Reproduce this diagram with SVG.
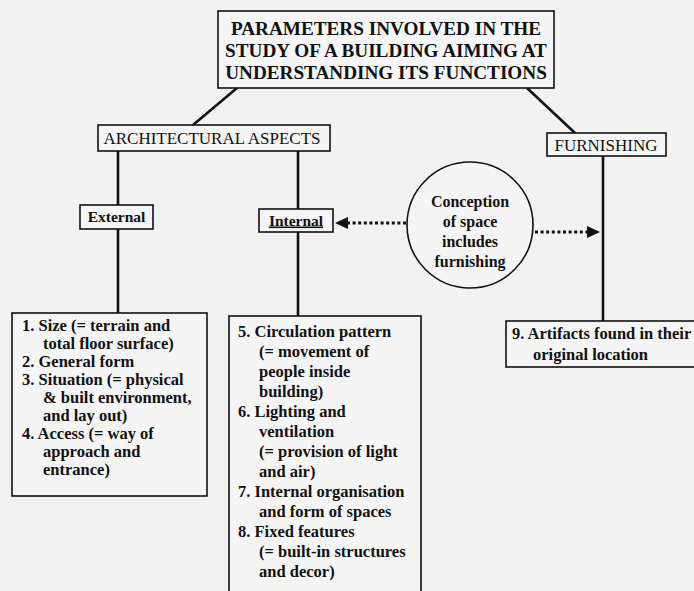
<svg xmlns="http://www.w3.org/2000/svg" width="694" height="591" viewBox="0 0 694 591">
<style>
.bg{fill:#f2f2f2}
.box{fill:#f5f5f5;stroke:#111;stroke-width:1.6}
.ln{stroke:#111;stroke-width:2.6;fill:none}
.dot{stroke:#111;stroke-width:3.2;stroke-dasharray:3 2.6;fill:none}
text{font-family:'Liberation Serif','DejaVu Serif','Times New Roman',serif;fill:#111}
.title{font-weight:bold;font-size:19.2px;text-anchor:middle}
.hd{font-size:17px;text-anchor:middle}
.lab{font-weight:bold;font-size:15.5px;text-anchor:middle}
.ci{font-weight:bold;font-size:16px;text-anchor:middle}
.li{font-weight:bold;font-size:16.5px}
</style>
<rect class="bg" x="0" y="0" width="694" height="591"/>

<g id="connectors">
<line class="ln" x1="237" y1="88" x2="193" y2="125"/>
<line class="ln" x1="527" y1="88" x2="575" y2="133"/>
<line class="ln" x1="118" y1="151" x2="118" y2="205"/>
<line class="ln" x1="118" y1="229" x2="118" y2="313"/>
<line class="ln" x1="298" y1="151" x2="298" y2="209"/>
<line class="ln" x1="298" y1="232" x2="298" y2="316"/>
<line class="ln" x1="603" y1="156" x2="603" y2="321"/>
<line class="dot" x1="406" y1="223" x2="346" y2="223"/>
<path d="M335,223 L348,217 L348,229 z" fill="#111"/>
<line class="dot" x1="535" y1="232" x2="588" y2="232"/>
<path d="M600,232 L587,226 L587,238 z" fill="#111"/>
</g>

<g id="title">
<rect class="box" x="218" y="11" width="336" height="77"/>
<text class="title" x="386" y="35">PARAMETERS INVOLVED IN THE</text>
<text class="title" x="386" y="57">STUDY OF A BUILDING AIMING AT</text>
<text class="title" x="386" y="79">UNDERSTANDING ITS FUNCTIONS</text>
</g>

<g id="architectural">
<rect class="box" x="98" y="125" width="232" height="26"/>
<text class="hd" x="212" y="144">ARCHITECTURAL ASPECTS</text>
</g>

<g id="furnishing">
<rect class="box" x="547" y="133" width="119" height="23"/>
<text class="hd" x="606" y="150.5">FURNISHING</text>
</g>

<g id="external">
<rect class="box" x="80" y="205" width="73" height="24"/>
<text class="lab" x="116.5" y="222">External</text>
</g>

<g id="internal">
<rect class="box" x="259" y="209" width="74" height="23"/>
<text class="lab" x="296" y="225.5" text-decoration="underline">Internal</text>
</g>

<g id="conception">
<circle cx="470" cy="225" r="63" fill="#f5f5f5" stroke="#111" stroke-width="1.6"/>
<text class="ci" x="470" y="207">Conception</text>
<text class="ci" x="470" y="227">of space</text>
<text class="ci" x="470" y="247">includes</text>
<text class="ci" x="470" y="267">furnishing</text>
</g>

<g id="external-list">
<rect class="box" x="12" y="313" width="195" height="183"/>
<text class="li" x="22" y="331">1. Size (= terrain and</text>
<text class="li" x="43" y="349">total floor surface)</text>
<text class="li" x="22" y="367">2. General form</text>
<text class="li" x="22" y="385">3. Situation (= physical</text>
<text class="li" x="43" y="403">&amp; built environment,</text>
<text class="li" x="43" y="421">and lay out)</text>
<text class="li" x="22" y="439">4. Access (= way of</text>
<text class="li" x="43" y="457">approach and</text>
<text class="li" x="43" y="475">entrance)</text>
</g>

<g id="internal-list">
<rect class="box" x="229" y="316" width="192" height="283"/>
<text class="li" x="238" y="337">5. Circulation pattern</text>
<text class="li" x="259" y="357">(= movement of</text>
<text class="li" x="259" y="377">people inside</text>
<text class="li" x="259" y="397">building)</text>
<text class="li" x="238" y="417">6. Lighting and</text>
<text class="li" x="259" y="437">ventilation</text>
<text class="li" x="259" y="457">(= provision of light</text>
<text class="li" x="259" y="477">and air)</text>
<text class="li" x="238" y="497">7. Internal organisation</text>
<text class="li" x="259" y="517">and form of spaces</text>
<text class="li" x="238" y="537">8. Fixed features</text>
<text class="li" x="259" y="557">(= built-in structures</text>
<text class="li" x="259" y="577">and decor)</text>
</g>

<g id="artifacts">
<rect class="box" x="506" y="321" width="200" height="46"/>
<text class="li" x="512" y="339">9. Artifacts found in their</text>
<text class="li" x="533" y="360">original location</text>
</g>
</svg>
